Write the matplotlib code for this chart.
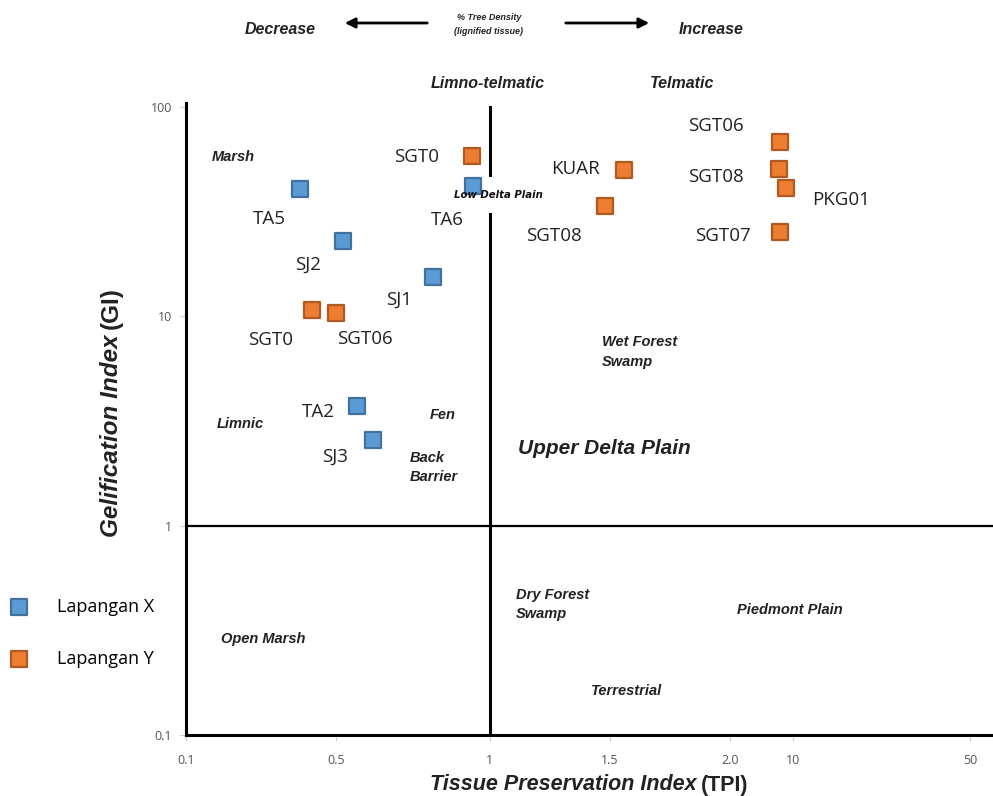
import matplotlib.pyplot as plt
import matplotlib.patches as patches

W, H = 993, 796

# Lapangan X (blue)
x_names = ['TA5', 'SJ2', 'SJ1', 'TA6', 'TA2', 'SJ3']
x_tpi = [0.238, 0.329, 0.652, 0.882, 0.366, 0.413]
x_gi = [40.5, 22.9, 15.4, 41.9, 3.71, 2.55]

# Lapangan Y (orange)
y_names = ['SGT0', 'SGT0', 'SGT06', 'KUAR', 'SGT08', 'SGT06', 'SGT08', 'PKG01', 'SGT07']
y_tpi = [0.875, 0.260, 0.312, 2.77, 2.40, 9.06, 9.0, 9.49, 9.06]
y_gi = [58.3, 10.7, 10.33, 50.0, 33.6, 68.0, 50.5, 41.0, 25.2]

# tick labels as printed on the original (not at their true log positions)
tpi_ticks = [0.1, 0.312, 1, 2.49, 6.2, 10, 38.3]
tpi_tick_labels = ['0.1', '0.5', '1', '1.5', '2.0', '10', '50']
gi_ticks = [0.1, 1, 10, 100]
gi_tick_labels = ['0.1', '1', '10', '100']

# label offsets (pixels, dx right / dy down)
x_off = [(-31, 30), (-35, 24), (-34, 23), (-26, 34), (-39, 6), (-38, 16)]
y_off = [(-55, 1), (-41, 30), (29, 26), (-48, -1), (-51, 30),
         (-64, -16), (-63, 8), (55, 12), (-57, 4)]


def px(x, y):
    return x / W, 1 - y / H


fig = plt.figure(figsize=(W / 100, H / 100), dpi=100)
ax = fig.add_axes([186 / W, 61 / H, 807 / W, 632.4 / H])
ax.set_xscale('log')
ax.set_yscale('log')
ax.set_xlim(0.1, 45.6)
ax.set_ylim(0.1, 104.5)

for s in ['top', 'right']:
    ax.spines[s].set_visible(False)
for s in ['left', 'bottom']:
    ax.spines[s].set_linewidth(2.2)
    ax.spines[s].set_color('black')

ax.axvline(1, color='black', lw=2.2, zorder=1, ymax=(2 + 1) / (1 + 2.0191))
ax.axhline(1, color='black', lw=1.6, zorder=1)

ax.set_xticks(tpi_ticks)
ax.set_xticklabels(tpi_tick_labels)
ax.set_yticks(gi_ticks)
ax.set_yticklabels(gi_tick_labels)
ax.minorticks_off()
ax.tick_params(axis='both', length=4, width=0.8, color='#cccccc',
               labelsize=9, labelcolor='#555555')
ax.tick_params(axis='x', pad=10)
ax.tick_params(axis='y', pad=6)
for lab in ax.get_xticklabels() + ax.get_yticklabels():
    lab.set_fontfamily('Open Sans')

# white box behind "Low Delta Plain"
ax.add_patch(patches.Rectangle(px(432, 213), 114 / W, 36 / H, transform=fig.transFigure,
                               facecolor='white', edgecolor='none', zorder=2))

ax.scatter(x_tpi, x_gi, marker='s', s=125, color='#5b9bd5', edgecolors='#41719c',
           linewidths=1.6, zorder=4, label='Lapangan X')
ax.scatter(y_tpi, y_gi, marker='s', s=125, color='#ed7d31', edgecolors='#ae5a21',
           linewidths=1.6, zorder=4, label='Lapangan Y')

for names, xs, ys, offs in [(x_names, x_tpi, x_gi, x_off), (y_names, y_tpi, y_gi, y_off)]:
    for n, xv, yv, (dx, dy) in zip(names, xs, ys, offs):
        ax.annotate(n, (xv, yv), xytext=(dx * 0.72, -dy * 0.72), textcoords='offset points',
                    ha='center', va='center', fontsize=13.5, family='Open Sans',
                    color='#222222', zorder=5)

bi = dict(family='Liberation Sans', weight='bold', style='italic', color='#222222')


def note(x, y, s, size=10.5, ha='center', **kw):
    fig.text(*px(x, y), s, fontsize=size, ha=ha, va='center', **bi, **kw)


note(280, 30, 'Decrease', 11.5)
note(711, 30, 'Increase', 11.5)
note(489, 18, '% Tree Density', 6.5)
note(489, 31, '(lignified tissue)', 6.5)
note(488, 83, 'Limno-telmatic', 11.5)
note(682, 83, 'Telmatic', 11.5)
note(233, 157, 'Marsh')
note(240, 424, 'Limnic')
note(443, 415, 'Fen')
note(410, 458, 'Back', ha='left')
note(410, 477, 'Barrier', ha='left')
note(602, 342, 'Wet Forest', ha='left')
note(602, 362, 'Swamp', ha='left')
note(604, 449, 'Upper Delta Plain', 15)
note(516, 595, 'Dry Forest', ha='left')
note(516, 614, 'Swamp', ha='left')
note(790, 610, 'Piedmont Plain')
note(263, 639, 'Open Marsh')
note(627, 691, 'Terrestrial')
fig.text(*px(498, 195), 'Low Delta Plain', fontsize=7.3, ha='center', va='center',
         family='DejaVu Sans', weight='bold', style='italic', color='#111111', zorder=3)

for x0, x1 in [(430, 342), (563, 652)]:
    ax.annotate('', xy=px(x1, 23), xytext=px(x0, 23), xycoords='figure fraction',
                textcoords='figure fraction', annotation_clip=False,
                arrowprops=dict(arrowstyle='-|>', lw=2, color='black', mutation_scale=15))

# axis titles: italic part + upright part
fig.text(*px(697, 785), 'Tissue Preservation Index', fontsize=15.5, ha='right', va='center', **bi)
fig.text(*px(701, 785), '(TPI)', fontsize=15.5, ha='left', va='center',
         family='Liberation Sans', weight='bold', color='#222222')
fig.text(*px(111, 334), 'Gelification Index', fontsize=17.5, rotation=90, ha='center', va='top', **bi)
fig.text(*px(111, 329), '(GI)', fontsize=17.5, rotation=90, ha='center', va='bottom',
         family='Liberation Sans', weight='bold', color='#222222')

fig.legend(loc='upper left', bbox_to_anchor=px(3, 591), frameon=False,
           prop={'family': 'Open Sans', 'size': 13}, handlelength=1.0, handletextpad=1.6,
           labelspacing=1.85, borderaxespad=0, markerscale=1.0)

fig.savefig('out.png', dpi=100)
